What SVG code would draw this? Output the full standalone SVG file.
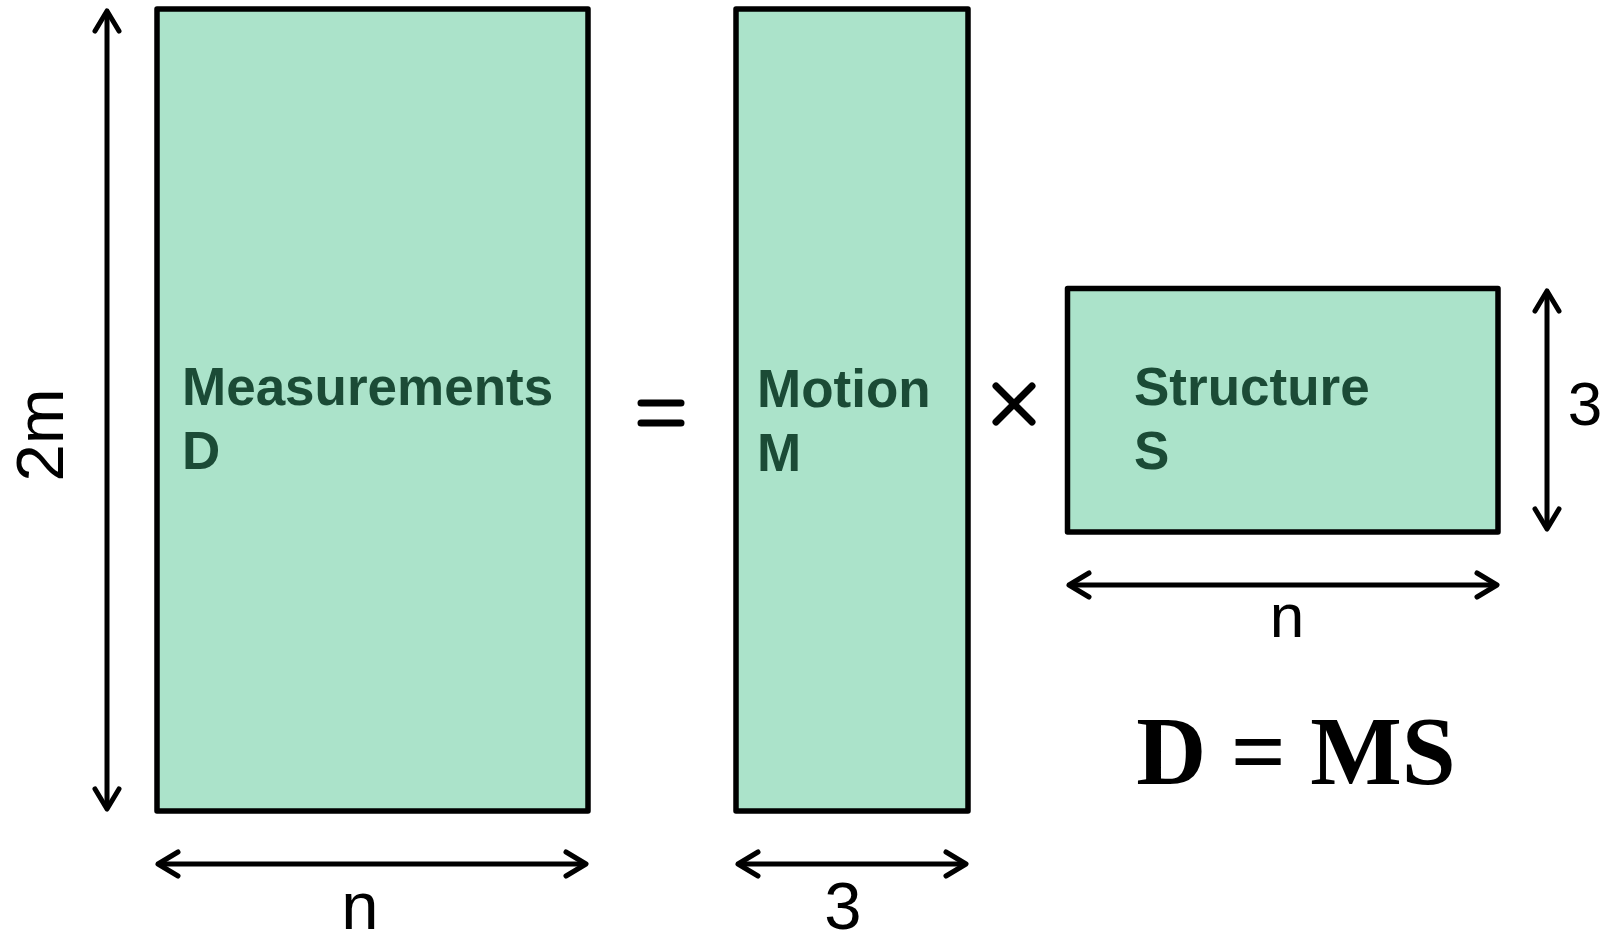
<svg xmlns="http://www.w3.org/2000/svg" width="1612" height="936" viewBox="0 0 1612 936">
<style>
.box{fill:#ABE3CA;stroke:#000;stroke-width:5.5;stroke-linejoin:round}
.lbl{font-family:"Liberation Sans",Arial,sans-serif;font-weight:bold;font-size:53px;fill:#1B4B36}
.dim{font-family:"Liberation Sans",Arial,sans-serif;font-size:62px;fill:#000;text-anchor:middle}
.dimL{font-family:"Liberation Sans",Arial,sans-serif;font-size:67px;fill:#000;text-anchor:middle}
.arr{stroke:#000;stroke-width:5;fill:none;marker-start:url(#ah);marker-end:url(#ah)}
.op{stroke:#000;stroke-width:7;stroke-linecap:round;fill:none}
.eq{font-family:"Liberation Serif","Times New Roman",serif;font-weight:bold;font-size:97px;fill:#000;text-anchor:middle}
</style>
<defs>
<marker id="ah" viewBox="-26 -16 30 32" markerWidth="30" markerHeight="32" refX="0" refY="0" orient="auto-start-reverse" markerUnits="userSpaceOnUse" overflow="visible">
<path d="M -20 -12 L 0 0 L -20 12" fill="none" stroke="#000" stroke-width="5" stroke-linecap="round" stroke-linejoin="round"/>
</marker>
</defs>
<g id="node-D">
<rect class="box" x="157" y="9" width="431" height="802"/>
<text class="lbl" x="182" y="405">Measurements</text>
<text class="lbl" x="182" y="469">D</text>
</g>
<g id="node-M">
<rect class="box" x="736" y="9" width="232" height="802"/>
<text class="lbl" x="757" y="407">Motion</text>
<text class="lbl" x="757" y="471">M</text>
</g>
<g id="node-S">
<rect class="box" x="1067.5" y="288.5" width="430.5" height="243.5"/>
<text class="lbl" x="1134" y="405">Structure</text>
<text class="lbl" x="1134" y="469">S</text>
</g>
<g id="operators">
<line class="op" x1="641" y1="403" x2="681" y2="403"/>
<line class="op" x1="641" y1="423" x2="681" y2="423"/>
<line class="op" x1="996" y1="386" x2="1032" y2="422"/>
<line class="op" x1="1032" y1="386" x2="996" y2="422"/>
</g>
<g id="connectors">
<line class="arr" x1="107" y1="11" x2="107" y2="809"/>
<line class="arr" x1="158" y1="864" x2="586" y2="864"/>
<line class="arr" x1="738" y1="864" x2="966" y2="864"/>
<line class="arr" x1="1547" y1="291" x2="1547" y2="529"/>
<line class="arr" x1="1069" y1="585" x2="1497" y2="585"/>
</g>
<g id="labels">
<text class="dimL" transform="translate(63,435) rotate(-90)">2m</text>
<text class="dimL" x="360" y="929">n</text>
<text class="dimL" x="843" y="929">3</text>
<text class="dim" x="1585" y="425">3</text>
<text class="dim" x="1287" y="637">n</text>
<text class="eq" x="1296" y="784">D = MS</text>
</g>
</svg>
